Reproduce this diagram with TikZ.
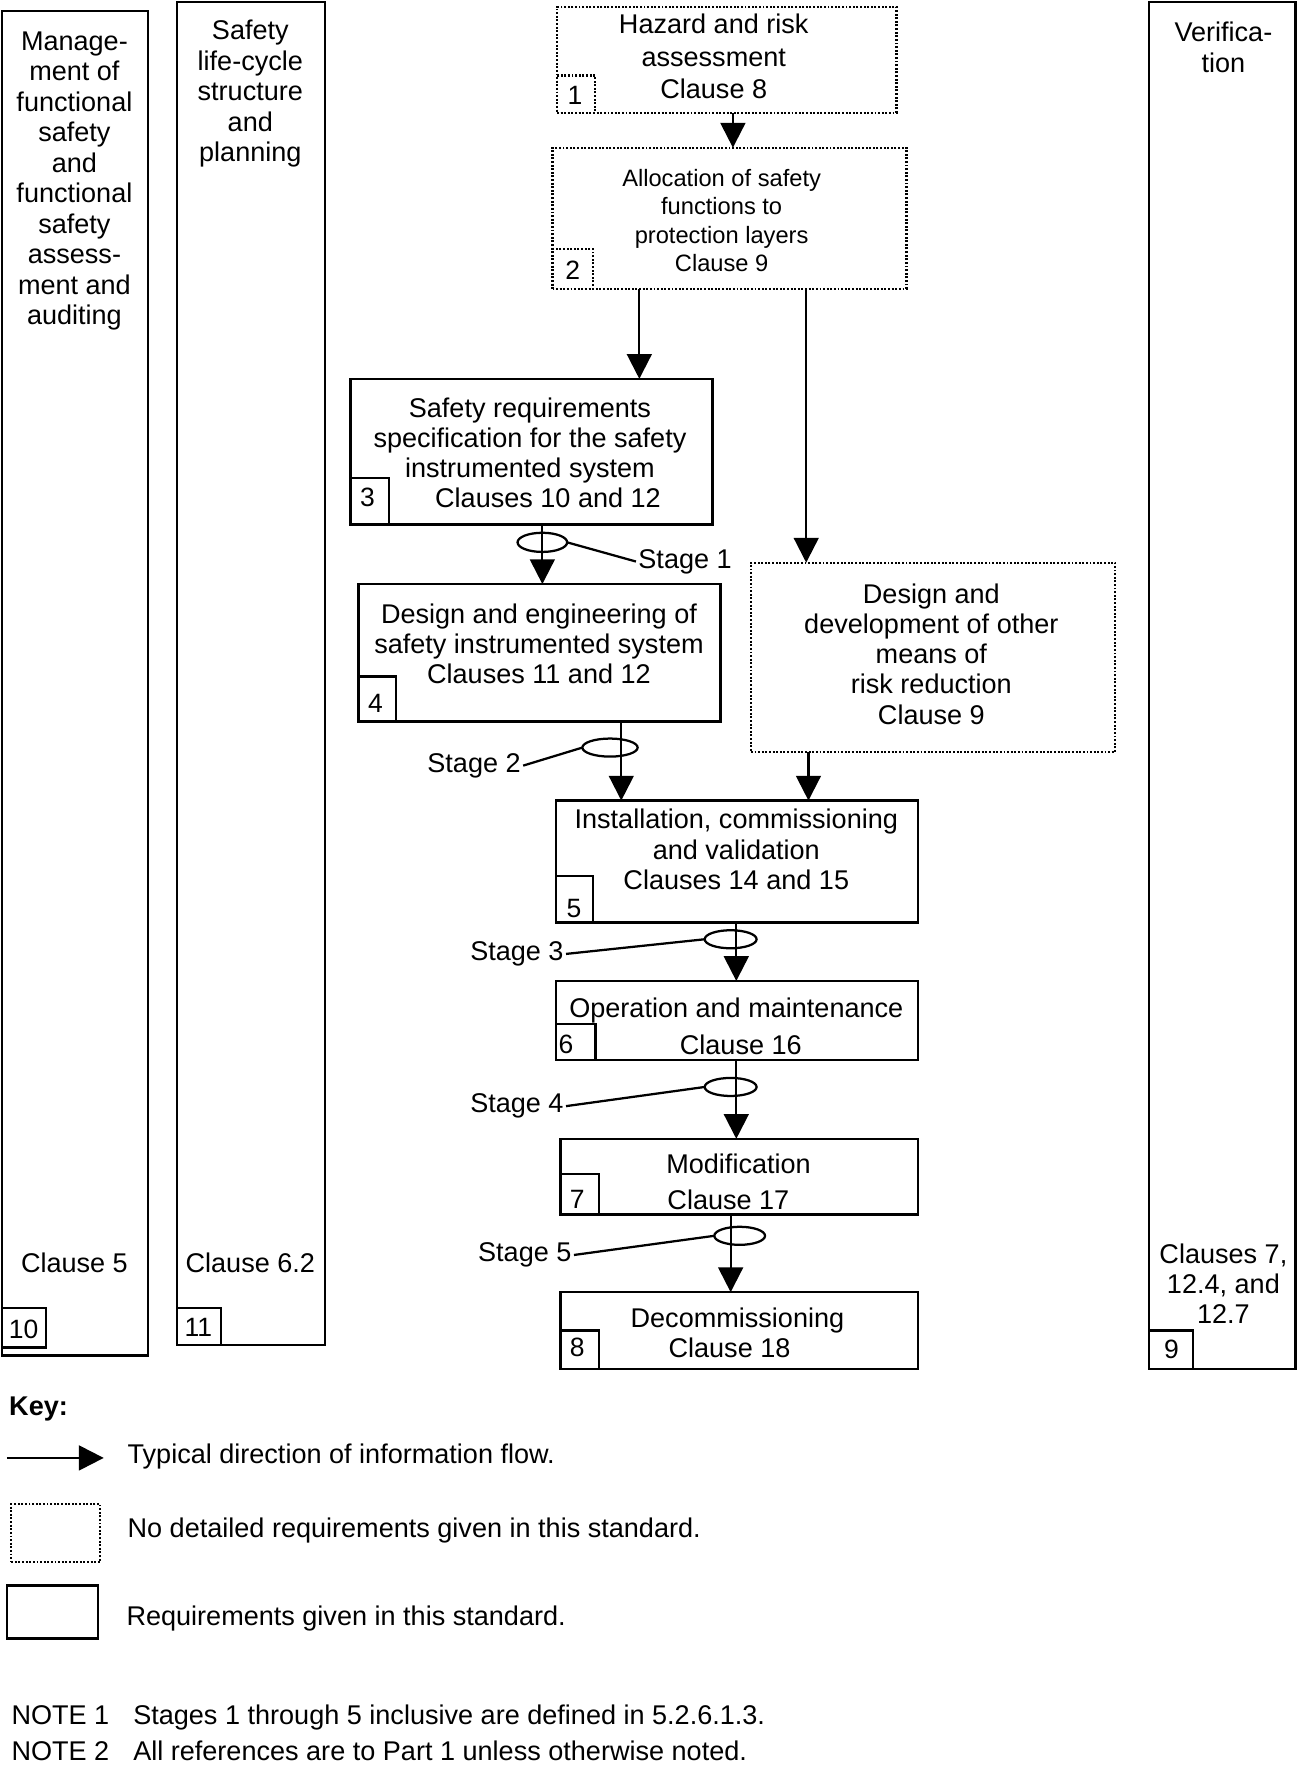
\documentclass[tikz,border=0pt]{standalone}
\usepackage{fontspec}
\setmainfont{Liberation Sans}
\usetikzlibrary{arrows.meta,shapes.geometric}
\begin{document}
\begin{tikzpicture}[x=1pt,y=-1pt,
  every node/.style={font=\fontsize{24}{27}\selectfont},
  sbox/.style={draw, line width=2.1pt, inner sep=0pt, outer sep=0pt},
  dbox/.style={draw, line width=2pt, dash pattern=on 1.7pt off 1.5pt, inner sep=0pt, outer sep=0pt},
  txt/.style={align=center, inner sep=0pt},
  num/.style={inner sep=0pt, font=\fontsize{23.5}{26}\selectfont},
  arr/.style={line width=2pt, -{Triangle[width=22pt,length=22pt]}},
  ring/.style={draw, ellipse, line width=2pt, inner sep=0pt, outer sep=0pt},
  stg/.style={inner sep=2pt},
  keytxt/.style={anchor=west, inner sep=0pt}
]
\fill[white] (0,0) rectangle (1152,1568);
\useasboundingbox (0,0) rectangle (1152,1568);

% ---------- side columns ----------
\node[sbox, minimum width=129pt, minimum height=1192pt] (c10) at (66.5,606) {};
\node[sbox, minimum width=131pt, minimum height=1191pt] (c11) at (222.5,597.5) {};
\node[sbox, minimum width=130pt, minimum height=1212pt] (c9) at (1084,608) {};

\node[txt] (c10t) at (66,160.5) {Manage-\\ment of\\functional\\safety\\and\\functional\\safety\\assess-\\ment and\\auditing};
\node[txt] (c10c) at (66,1120) {Clause 5};
\node[sbox, minimum width=39pt, minimum height=35pt, anchor=south west] (s10) at (2,1195) {};
\node[num] (n10) at (21,1179) {10};

\node[txt] (c11t) at (222,83) {Safety\\life-cycle\\structure\\and\\planning};
\node[txt] (c11c) at (222,1120) {Clause 6.2};
\node[sbox, minimum width=39pt, minimum height=33pt, anchor=south west] (s11) at (c11.south west) {};
\node[num] (n11) at (176,1177) {11};

\node[txt] (c9t) at (1085,42) {Verifica-\\tion};
\node[txt] (c9c) at (1085,1138.5) {Clauses 7,\\12.4, and\\12.7};
\node[sbox, minimum width=39pt, minimum height=34pt, anchor=south west] (s9) at (c9.south west) {};
\node[num] (n9) at (1039,1197) {9};

% ---------- main boxes ----------
\node[dbox, minimum width=301pt, minimum height=94pt] (b1) at (644.5,53) {};
\node[txt, font=\fontsize{24}{28.5}\selectfont] (b1t) at (633,50) {Hazard and risk\\assessment\\Clause 8};
\node[dbox, minimum width=34pt, minimum height=33pt, anchor=south west] (s1) at (b1.south west) {};
\node[num] (n1) at (510,85) {1};

\node[dbox, minimum width=314pt, minimum height=125pt] (b2) at (647,193.5) {};
\node[txt, font=\fontsize{21}{25.3}\selectfont] (b2t) at (640,195.5) {Allocation of safety\\functions to\\protection layers\\Clause 9};
\node[dbox, minimum width=36pt, minimum height=35pt, anchor=south west] (s2) at (b2.south west) {};
\node[num] (n2) at (508,240) {2};

\node[sbox, minimum width=321pt, minimum height=129pt] (b3) at (471.5,400.5) {};
\node[txt, font=\fontsize{24}{26.7}\selectfont] (b3t) at (470,401.5) {Safety requirements\\specification for the safety\\instrumented system\\\hspace*{32pt}Clauses 10 and 12};
\node[sbox, minimum width=34pt, minimum height=41pt, anchor=south west] (s3) at (b3.south west) {};
\node[num] (n3) at (326,441) {3};

\node[sbox, minimum width=321pt, minimum height=122pt] (b4) at (478.5,579) {};
\node[txt] (b4t) at (478,571) {Design and engineering of\\safety instrumented system\\Clauses 11 and 12};
\node[sbox, minimum width=33pt, minimum height=40pt, anchor=south west] (s4) at (b4.south west) {};
\node[num] (n4) at (333,624) {4};

\node[dbox, minimum width=323pt, minimum height=168pt] (bO) at (827.5,583) {};
\node[txt, font=\fontsize{24}{26.8}\selectfont] (bOt) at (826,580) {Design and\\development of other\\means of\\risk reduction\\Clause 9};

\node[sbox, minimum width=321pt, minimum height=108pt] (b5) at (653.5,764) {};
\node[txt] (b5t) at (653,753.5) {Installation, commissioning\\and validation\\Clauses 14 and 15};
\node[sbox, minimum width=33pt, minimum height=41pt, anchor=south west] (s5) at (b5.south west) {};
\node[num] (n5) at (509,806) {5};

\node[sbox, minimum width=321pt, minimum height=70pt] (b6) at (653.5,905) {};
\node[sbox, minimum width=35pt, minimum height=32pt, anchor=south west] (s6) at (b6.south west) {};
\node[txt] (b6t) at (653,910) {Operation and maintenance\\[6pt]\hspace*{8pt}Clause 16};
\node[num] (n6) at (502,926) {6};

\node[sbox, minimum width=317pt, minimum height=67pt] (b7) at (655.5,1043.5) {};
\node[txt] (b7t) at (655,1048) {Modification\\[5pt]Clause 17\hspace*{18pt}};
\node[sbox, minimum width=34pt, minimum height=36pt, anchor=south west] (s7) at (b7.south west) {};
\node[num] (n7) at (512,1064) {7};

\node[sbox, minimum width=317pt, minimum height=68pt] (b8) at (655.5,1180) {};
\node[txt] (b8t) at (654,1182) {Decommissioning\\Clause 18\hspace*{14pt}};
\node[sbox, minimum width=34pt, minimum height=34pt, anchor=south west] (s8) at (b8.south west) {};
\node[num] (n8) at (512,1195) {8};

% ---------- arrows ----------
\coordinate (x12) at (650,0);
\coordinate (x23) at (567,0);
\coordinate (x2O) at (715,0);
\coordinate (x34) at (481,0);
\coordinate (x45) at (551,0);
\coordinate (xO5) at (717,0);
\coordinate (x56) at (653,0);
\coordinate (x78) at (648,0);
\draw[arr] (b1.south -| x12) -- (b2.north -| x12);
\draw[arr] (b2.south -| x23) -- (b3.north -| x23);
\draw[arr] (b2.south -| x2O) -- (bO.north -| x2O);
\draw[arr] (b3.south -| x34) -- (b4.north -| x34);
\draw[arr] (b4.south -| x45) -- (b5.north -| x45);
\draw[arr] (bO.south -| xO5) -- (b5.north -| xO5);
\draw[arr] (b5.south -| x56) -- (b6.north -| x56);
\draw[arr] (b6.south -| x56) -- (b7.north -| x56);
\draw[arr] (b7.south -| x78) -- (b8.north -| x78);

% ---------- stages ----------
\node[ring, minimum width=44pt, minimum height=17pt] (e1) at (481,481) {};
\node[stg, anchor=west] (st1) at (564,498) {Stage 1};
\draw[line width=2pt] (e1.east) -- (st1.west);

\node[ring, minimum width=49pt, minimum height=16pt] (e2) at (541,663) {};
\node[stg, anchor=east] (st2) at (464,679) {Stage 2};
\draw[line width=2pt] (e2.west) -- (st2.east);

\node[ring, minimum width=46pt, minimum height=16pt] (e3) at (648,833) {};
\node[stg, anchor=east] (st3) at (502,846) {Stage 3};
\draw[line width=2pt] (e3.west) -- (st3.east);

\node[ring, minimum width=46pt, minimum height=16pt] (e4) at (648,964) {};
\node[stg, anchor=east] (st4) at (502,981) {Stage 4};
\draw[line width=2pt] (e4.west) -- (st4.east);

\node[ring, minimum width=45pt, minimum height=16pt] (e5) at (656,1096) {};
\node[stg, anchor=east] (st5) at (509,1113) {Stage 5};
\draw[line width=2pt] (e5.west) -- (st5.east);

% ---------- key ----------
\node[keytxt, font=\bfseries\fontsize{24}{27}\selectfont] (key) at (8,1250) {Key:};
\coordinate (k1) at (6,1293);
\coordinate (k2) at (92,1293);
\draw[arr] (k1) -- (k2);
\node[keytxt] (kt1) at (113,1292) {Typical direction of information flow.};
\node[dbox, minimum width=79pt, minimum height=51pt] (kd) at (49.5,1359.5) {};
\node[keytxt] (kt2) at (113,1357) {No detailed requirements given in this standard.};
\node[sbox, minimum width=81pt, minimum height=47pt] (ks) at (46.5,1429.5) {};
\node[keytxt] (kt3) at (112,1435) {Requirements given in this standard.};

\node[keytxt] (note1) at (10,1523) {\makebox[108pt][l]{NOTE 1}Stages 1 through 5 inclusive are defined in 5.2.6.1.3.};
\node[keytxt] (note2) at (10,1553) {\makebox[108pt][l]{NOTE 2}All references are to Part 1 unless otherwise noted.};
\end{tikzpicture}
\end{document}
